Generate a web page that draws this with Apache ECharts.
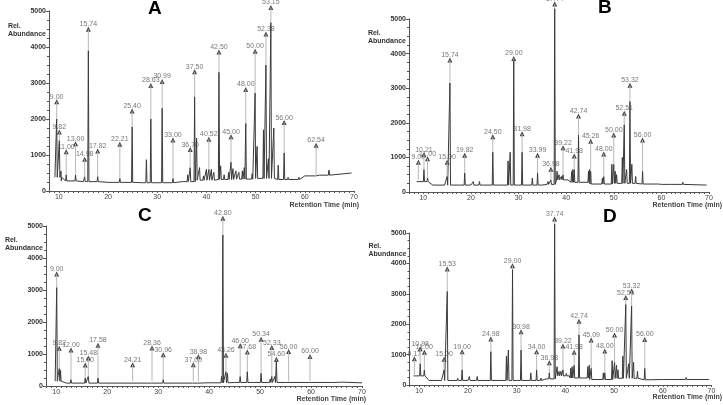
<!DOCTYPE html>
<html>
<head>
<meta charset="utf-8">
<script src="https://cdn.jsdelivr.net/npm/echarts@6/dist/echarts.min.js"></script>
<style>
  html, body { margin: 0; padding: 0; background: #fff; }
  #chart { width: 723px; height: 405px; }
</style>
</head>
<body>
<div id="chart"></div>
<script>
// ---- panel A ----
const aLabels = ['9.00', '9.82', '11.00', '13.00', '14.98', '15.74', '17.82', '22.21', '25.40', '28.63', '30.99', '33.00', '36.70', '37.50', '40.52', '42.50', '45.00', '48.00', '50.00', '52.38', '53.15', '56.00', '62.54']
const aTimes = [9.56, 10.1, 11.5, 13.4, 15.25, 16.0, 17.9, 22.4, 24.9, 28.7, 31.0, 33.2, 36.7, 37.6, 40.5, 42.55, 45.0, 48.0, 49.9, 52.1, 53.1, 55.8, 62.3]
const aMarks = [2480, 1640, 1090, 1310, 880, 4490, 1110, 1300, 2220, 2930, 3040, 1420, 1150, 3310, 1440, 3860, 1510, 2820, 3880, 4360, 5100, 1900, 1270]
const aTops = [2000, 1400, 450, 450, 400, 3900, 400, 350, 1780, 2000, 2300, 350, 650, 2620, 600, 3300, 800, 1880, 2720, 3500, 4680, 1060, 400]
const aSmallT = [10.45, 27.8, 36.2, 38.0, 38.6, 39.4, 40.0, 41.0, 41.5, 42.9, 43.6, 44.5, 45.4, 46.0, 46.6, 47.3, 47.7, 49.3, 50.3, 51.6, 52.6, 53.7, 54.6, 56.6, 58.8, 64.9]
const aSmallV = [550, 870, 450, 1470, 650, 420, 600, 600, 520, 700, 450, 520, 620, 560, 520, 560, 650, 480, 1240, 1700, 900, 1750, 720, 380, 380, 580]
const aBaseT = [9.2, 10.5, 15, 20, 27, 30, 35, 38, 42, 46, 50, 54, 57, 60, 63, 65, 69.5]
const aBaseV = [380, 280, 260, 240, 230, 230, 260, 300, 320, 330, 350, 320, 320, 420, 440, 500, 500]

// ---- panel B ----
const bLabels = ['9.00', '10.21', '11.00', '15.00', '15.74', '19.82', '24.50', '29.00', '31.98', '33.99', '36.98', '37.74', '39.22', '41.98', '42.74', '45.26', '48.00', '50.00', '52.51', '53.32', '56.00']
const bTimes = [8.95, 10.14, 10.9, 15.0, 15.6, 18.7, 24.6, 29.0, 30.75, 34.0, 36.8, 37.6, 39.35, 41.7, 42.6, 45.15, 47.9, 50.0, 52.2, 53.4, 56.05]
const bMarks = [860, 1080, 960, 860, 3815, 1060, 1600, 3860, 1680, 1060, 655, 5430, 1280, 1040, 2200, 1465, 1100, 1650, 2275, 3085, 1505]
const bTops = [350, 650, 400, 450, 3150, 550, 1150, 3800, 1150, 550, 350, 5300, 500, 650, 1650, 600, 450, 800, 1950, 2620, 600]
const bSmallT = [14.6, 17.8, 20.5, 21.8, 27.8, 28.25, 32.9, 35.0, 36.2, 38.1, 38.5, 39.0, 39.8, 40.5, 41.2, 41.4, 44.7, 44.9, 47.6, 49.6, 50.3, 50.6, 51.8, 52.7, 53.8, 54.6, 59.5, 62, 64.5]
const bSmallV = [250, 250, 300, 300, 900, 1150, 400, 250, 300, 600, 500, 450, 400, 350, 600, 650, 600, 650, 400, 800, 600, 500, 1000, 650, 800, 450, 250, 240, 280]
const bBaseT = [8.6, 12, 20, 30, 36, 38, 41, 45, 50, 55, 60, 65, 69.5]
const bBaseV = [300, 200, 200, 200, 220, 350, 280, 230, 250, 230, 220, 230, 200]

// ---- panel C ----
const cLabels = ['9.00', '9.82', '12.00', '15.00', '15.48', '17.58', '24.21', '28.36', '30.96', '37.00', '38.98', '42.80', '43.26', '46.00', '47.68', '50.34', '52.33', '54.60', '56.00', '60.00']
const cTimes = [10.1, 10.6, 12.9, 15.7, 16.3, 18.2, 25.0, 28.8, 31.0, 36.9, 37.9, 42.7, 43.3, 46.1, 47.5, 50.2, 52.3, 53.2, 55.6, 59.8]
const cMarks = [3500, 1180, 1125, 655, 875, 1270, 665, 1190, 980, 665, 915, 5240, 960, 1260, 1060, 1460, 1200, 835, 1075, 925]
const cTops = [3080, 550, 200, 250, 300, 250, 150, 150, 200, 150, 150, 4720, 450, 300, 450, 400, 300, 780, 150, 150]
const cSmallT = [10.85, 42.45, 43.6, 48.3, 48.8, 52.0, 52.9, 64.6]
const cSmallV = [500, 300, 400, 150, 150, 220, 300, 160]
const cBaseT = [9.8, 12, 20, 30, 40, 45, 55, 64, 66, 70]
const cBaseV = [150, 90, 90, 90, 100, 110, 110, 110, 120, 100]

// ---- panel D ----
const dLabels = ['9.17', '10.98', '11.00', '15.00', '15.53', '19.00', '24.98', '29.00', '30.98', '34.00', '36.98', '37.74', '39.22', '41.98', '42.74', '45.09', '48.00', '50.00', '52.51', '53.32', '56.00']
const dTimes = [9.0, 10.2, 11.05, 15.1, 15.75, 18.8, 24.7, 29.15, 30.9, 34.1, 36.7, 37.8, 39.5, 41.8, 42.8, 45.3, 48.1, 50.1, 52.4, 53.6, 56.3]
const dMarks = [865, 1195, 1075, 845, 3815, 1095, 1515, 3925, 1755, 1095, 735, 5460, 1285, 1075, 2095, 1480, 1120, 1645, 2875, 3095, 1500]
const dTops = [300, 700, 500, 500, 3080, 500, 1100, 3800, 1150, 500, 400, 5300, 500, 650, 1650, 550, 400, 750, 2650, 2600, 550]
const dSmallT = [14.7, 17.9, 20.3, 21.9, 27.9, 28.3, 32.9, 35.0, 38.3, 38.7, 39.1, 40.2, 40.7, 41.1, 41.4, 44.6, 44.9, 47.8, 49.6, 50.5, 50.8, 51.8, 53.0, 54.0, 54.8, 60, 62, 64.8]
const dSmallV = [200, 220, 280, 280, 950, 1150, 400, 230, 600, 450, 450, 380, 350, 550, 600, 600, 650, 400, 800, 650, 500, 950, 700, 750, 450, 220, 220, 250]
const dBaseT = [8.8, 12, 20, 30, 36, 38, 41, 45, 50, 55, 60, 65, 69.5]
const dBaseV = [300, 150, 150, 150, 200, 300, 230, 180, 220, 170, 180, 180, 180]

const panels = [
  { name: 'A', grid: { left: 49, top: 11, width: 305, height: 180 }, min: 8,
    title: [148, -1], xTitle: [359, 202],
    labels: aLabels, times: aTimes, marks: aMarks, tops: aTops, smallT: aSmallT, smallV: aSmallV, baseT: aBaseT, baseV: aBaseV },
  { name: 'B', grid: { left: 409, top: 19, width: 300, height: 173 }, min: 7,
    title: [598, -2], xTitle: [722, 202],
    labels: bLabels, times: bTimes, marks: bMarks, tops: bTops, smallT: bSmallT, smallV: bSmallV, baseT: bBaseT, baseV: bBaseV },
  { name: 'C', grid: { left: 46, top: 226, width: 316, height: 160 }, min: 8,
    title: [138, 206], xTitle: [366, 396],
    labels: cLabels, times: cTimes, marks: cMarks, tops: cTops, smallT: cSmallT, smallV: cSmallV, baseT: cBaseT, baseV: cBaseV },
  { name: 'D', grid: { left: 409.5, top: 233, width: 302, height: 152 }, min: 8,
    title: [603, 207], xTitle: [722, 394],
    labels: dLabels, times: dTimes, marks: dMarks, tops: dTops, smallT: dSmallT, smallV: dSmallV, baseT: dBaseT, baseV: dBaseV }
]

const font = '"Liberation Sans", Arial, sans-serif'
const axisColor = '#555'

// baseline level in force at time t (last baseline point at or before t)
function baseAt(p, t) {
  let v = p.baseV[0]
  p.baseT.forEach((bt, i) => { if (bt <= t) v = p.baseV[i] })
  return v
}

function buildTrace(p) {
  const pts = p.baseT.map((t, i) => [t, p.baseV[i]])
  const peaks = p.times.map((t, i) => [t, p.tops[i]])
    .concat(p.smallT.map((t, i) => [t, p.smallV[i]]))
  peaks.forEach(([t, h]) => {
    const b = baseAt(p, t)
    pts.push([t - 0.12, b], [t, h], [t + 0.12, b])
  })
  pts.sort((a, b) => a[0] - b[0])
  return pts
}

const grids = [], xAxes = [], yAxes = [], series = [], graphics = []

panels.forEach((p, k) => {
  grids.push(p.grid)
  xAxes.push({
    type: 'value', gridIndex: k, min: p.min, max: 70, interval: 1,
    axisLine: { lineStyle: { color: axisColor, width: 1 } },
    axisTick: { length: 2, lineStyle: { color: axisColor } },
    axisLabel: {
      fontSize: 7, color: '#444', fontFamily: font, margin: 3,
      formatter: v => (v % 10 === 0 ? String(v) : '')
    },
    splitLine: { show: false }
  })
  yAxes.push({
    type: 'value', gridIndex: k, min: 0, max: 5000, interval: 1000,
    axisLine: { show: true, lineStyle: { color: axisColor, width: 1 } },
    axisTick: { show: true, length: 3, lineStyle: { color: axisColor } },
    minorTick: { show: true, splitNumber: 4, length: 2, lineStyle: { color: axisColor } },
    axisLabel: {
      fontSize: 7, color: '#333', fontWeight: 'bold', fontFamily: font, margin: 3,
      formatter: v => String(v)
    },
    splitLine: { show: false }
  })

  // chromatogram trace
  series.push({
    type: 'line', xAxisIndex: k, yAxisIndex: k, data: buildTrace(p),
    symbol: 'none', clip: false, silent: true,
    lineStyle: { color: '#3a3a3a', width: 1 }
  })
  // light guide from peak top to label marker
  series.push({
    type: 'line', xAxisIndex: k, yAxisIndex: k, symbol: 'none', clip: false, silent: true,
    connectNulls: false,
    data: p.times.flatMap((t, i) => [[t, p.tops[i]], [t, p.marks[i]], [t, '-']]),
    lineStyle: { color: '#b8b8b8', width: 1 }
  })
  // triangle markers with retention time labels
  series.push({
    type: 'scatter', xAxisIndex: k, yAxisIndex: k, clip: false, silent: true,
    symbol: 'triangle', symbolSize: 5,
    itemStyle: { color: '#111' },
    data: p.times.map((t, i) => [t, p.marks[i]]),
    label: {
      show: true, position: 'top', distance: -1,
      fontSize: 7, color: '#555', fontFamily: font,
      formatter: prm => p.labels[prm.dataIndex]
    }
  })

  const g = p.grid
  graphics.push({
    type: 'text', left: p.title[0], top: p.title[1],
    style: { text: p.name, font: 'bold 19px ' + font, fill: '#000' }
  })
  graphics.push({
    type: 'text', right: 723 - g.left + 3, top: g.top + g.height * 0.06,
    style: { text: 'Rel.\nAbundance', font: 'bold 7px ' + font, fill: '#333', align: 'right', lineHeight: 8 }
  })
  graphics.push({
    type: 'text', right: 723 - p.xTitle[0], top: p.xTitle[1],
    style: { text: 'Retention Time (min)', font: 'bold 7px ' + font, fill: '#444' }
  })
})

const chart = echarts.init(document.getElementById('chart'))
chart.setOption({
  animation: false,
  backgroundColor: '#fff',
  grid: grids,
  xAxis: xAxes,
  yAxis: yAxes,
  series: series,
  graphic: graphics
})
</script>
</body>
</html>
